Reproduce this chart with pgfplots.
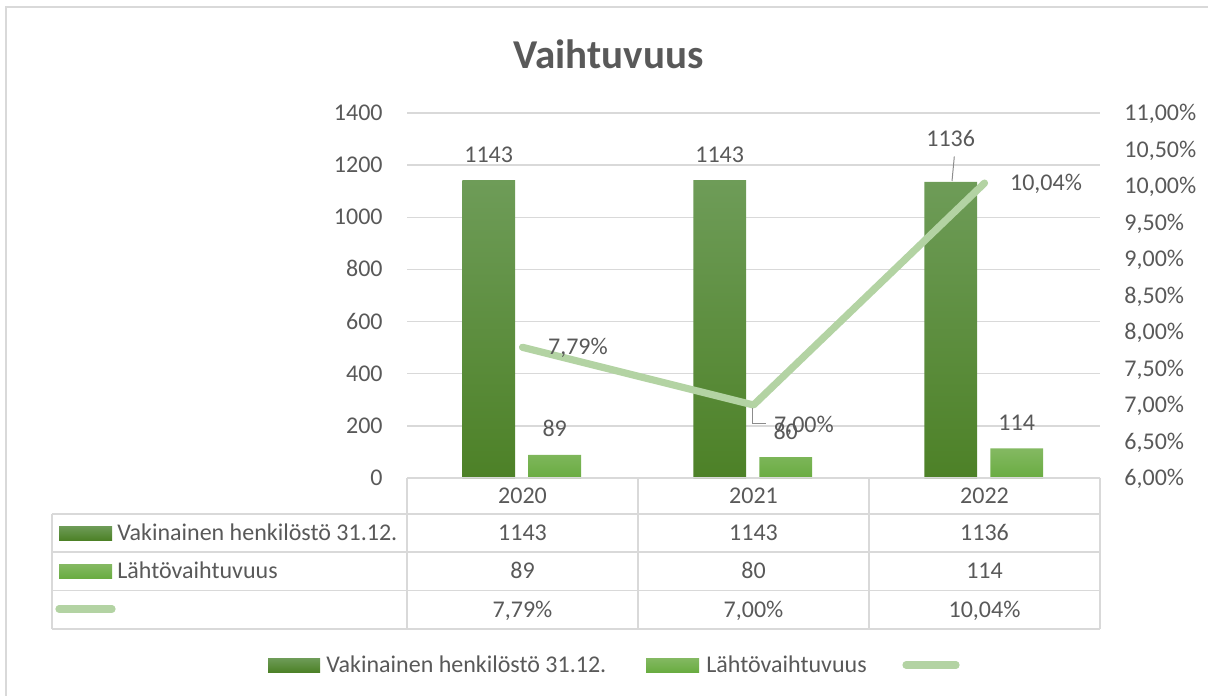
\documentclass[border=0pt]{standalone}
\usepackage{fontspec}
\setmainfont{Carlito}
\usepackage{pgfplots}
\usepackage{pgfplotstable}
\pgfplotsset{compat=1.18}
\definecolor{txt}{HTML}{595959}
\definecolor{gridc}{HTML}{D9D9D9}
\definecolor{darktop}{HTML}{6E9C58}
\definecolor{darkbot}{HTML}{4D8127}
\definecolor{lighttop}{HTML}{84B962}
\definecolor{lightbot}{HTML}{69AC41}
\definecolor{linec}{HTML}{B3D3A3}
\newcommand\tfont{\fontsize{12}{14.4}\selectfont}

\pgfplotstableread{
x staff leavers rate sh rx ry
0 1143 89 7.79 0 0 0
1 1143 80 7.00 0 -2.5 -9.75
2 1136 114 10.04 8.5 0 0
}\datatable

\begin{document}
\begin{tikzpicture}
\useasboundingbox (0,0) rectangle (604pt,-347.5pt);
\begin{scope}[x=0.5pt,y=-0.5pt]
  % outer border
  \draw[gridc, line width=0.6pt] (6,700) -- (6,7) -- (1208,7);
  % title
  \node[anchor=base, inner sep=0pt, text=txt, font=\fontsize{20.5}{24}\selectfont\bfseries] at (608.5,68.3) {Vaihtuvuus};
\end{scope}

\begin{axis}[
  at={(203.5pt,-239pt)}, anchor=south west,
  scale only axis, width=346.5pt, height=182.5pt,
  xmin=-0.5, xmax=2.5, ymin=0, ymax=1400,
  ytick={0,200,400,600,800,1000,1200,1400},
  xtick=\empty,
  axis line style={draw=none},
  major tick length=0pt,
  ymajorgrids, grid style={gridc, line width=0.75pt},
  /pgf/number format/assume math mode=true,
  /pgf/number format/1000 sep={},
  yticklabel style={font=\tfont, text=txt, anchor=base east, inner sep=0pt, xshift=-12pt, yshift=-3.75pt},
  clip=false,
]
\addplot[ybar, bar width=26.35pt, bar shift=-16.9pt, draw=none,
  top color=darktop, bottom color=darkbot,
  visualization depends on={\thisrow{sh} \as \lsh},
  nodes near coords,
  every node near coord/.append style={font=\tfont, text=txt, inner sep=0pt, anchor=base, xshift=-16.9pt, yshift=9pt+\lsh pt}
] table[x=x,y=staff]{\datatable};
\addplot[ybar, bar width=26.35pt, bar shift=16.1pt, draw=none,
  top color=lighttop, bottom color=lightbot,
  nodes near coords,
  every node near coord/.append style={font=\tfont, text=txt, inner sep=0pt, anchor=base, xshift=16.1pt, yshift=9pt}
] table[x=x,y=leavers]{\datatable};
\end{axis}

\begin{axis}[
  at={(203.5pt,-239pt)}, anchor=south west,
  scale only axis, width=346.5pt, height=182.5pt,
  xmin=-0.5, xmax=2.5, ymin=6, ymax=11,
  axis x line=none, axis y line*=right,
  ytick={6,6.5,7,7.5,8,8.5,9,9.5,10,10.5,11},
  axis line style={draw=none},
  major tick length=0pt,
  /pgf/number format/assume math mode=true,
  yticklabel={\pgfmathprintnumber[fixed,fixed zerofill,precision=2,use comma]{\tick}\%},
  yticklabel style={font=\tfont, text=txt, anchor=base west, inner sep=0pt, xshift=12pt, yshift=-3.75pt},
  clip=false,
]
\addplot[linec, line width=3.6pt, line cap=round, line join=round, mark=none,
  visualization depends on={\thisrow{rx} \as \rxs},
  visualization depends on={\thisrow{ry} \as \rys},
  nodes near coords={\pgfmathprintnumber[fixed,fixed zerofill,precision=2,use comma]{\pgfplotspointmeta}\%},
  every node near coord/.append style={font=\tfont, text=txt, inner sep=0pt, anchor=base west, xshift=11pt+\rxs pt, yshift=-3.75pt+\rys pt}
] table[x=x,y=rate]{\datatable};
\end{axis}

\begin{scope}[x=0.5pt,y=-0.5pt]
  % leader lines
  \draw[black!45, line width=0.5pt] (954.3,156.5) -- (952,181);
  \draw[black!45, line width=0.5pt] (752.7,408) -- (752.7,423) -- (766,423);
  % data table
  \begin{scope}[gridc, line width=0.75pt]
    \draw (407,477.5) -- (1100,477.5);
    \draw (52,514) -- (1100,514);
    \draw (52,552) -- (1100,552);
    \draw (52,590.5) -- (1100,590.5);
    \draw (52,629) -- (1100,629);
    \draw (52,514) -- (52,629);
    \draw (407,477.5) -- (407,629);
    \draw (638,477.5) -- (638,629);
    \draw (869,477.5) -- (869,629);
    \draw (1100,477.5) -- (1100,629);
  \end{scope}
  \begin{scope}[every node/.style={font=\tfont, text=txt, inner sep=0pt, anchor=base}]
    \node at (522.5,503.3) {2020};
    \node at (753.5,503.3) {2021};
    \node at (984.5,503.3) {2022};
    \node at (522.5,540.5) {1143};
    \node at (753.5,540.5) {1143};
    \node at (984.5,540.5) {1136};
    \node at (522.5,578.8) {89};
    \node at (753.5,578.8) {80};
    \node at (984.5,578.8) {114};
    \node at (522.5,617.3) {7,79\%};
    \node at (753.5,617.3) {7,00\%};
    \node at (984.5,617.3) {10,04\%};
    \node[anchor=base west] at (117,540.5) {Vakinainen henkilöstö 31.12.};
    \node[anchor=base west] at (117,578.8) {Lähtövaihtuvuus};
    \node[anchor=base west] at (326,672.5) {Vakinainen henkilöstö 31.12.};
    \node[anchor=base west] at (706,672.5) {Lähtövaihtuvuus};
  \end{scope}
  % table keys
  \shade[top color=darktop, bottom color=darkbot] (59,526) rectangle (112,540);
  \shade[top color=lighttop, bottom color=lightbot] (59,564.3) rectangle (112,578.3);
  \draw[linec, line width=3.6pt, line cap=round] (59,609) -- (112,609);
  % legend
  \shade[top color=darktop, bottom color=darkbot] (268,658) rectangle (320,672);
  \shade[top color=lighttop, bottom color=lightbot] (646,658) rectangle (699,672);
  \draw[linec, line width=3.6pt, line cap=round] (906,665) -- (956,665);
\end{scope}
\end{tikzpicture}
\end{document}
